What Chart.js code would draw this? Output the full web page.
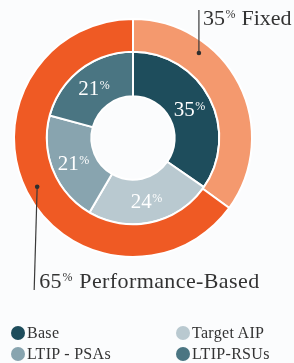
<!DOCTYPE html>
<html><head><meta charset="utf-8">
<script src="https://cdn.jsdelivr.net/npm/chart.js@4/dist/chart.umd.min.js"></script>
<style>
html,body{margin:0;padding:0;background:#fbfcfd;width:294px;height:363px;overflow:hidden;}
#wrap{position:relative;width:294px;height:363px;}
#c{position:absolute;left:0;top:0;}
#legend{position:absolute;left:11px;top:325px;width:283px;display:grid;grid-template-columns:165px 118px;row-gap:5px;font-family:"Liberation Serif",serif;font-size:16px;letter-spacing:0.3px;color:#333;}
.item{display:flex;align-items:center;height:16px;line-height:16px;white-space:nowrap;}
.dot{width:14px;height:14px;border-radius:50%;margin-right:2px;flex:none;}
</style></head>
<body><div id="wrap"><canvas id="c" width="294" height="363"></canvas><div id="legend"></div></div>
<script>
const innerCategories = ['Base', 'Target AIP', 'LTIP - PSAs', 'LTIP-RSUs'];
const innerValues = [35, 24, 21, 21];
const innerColors = ['#1e4d5c', '#b9c9d0', '#88a4af', '#4a7582'];
const outerCategories = ['Fixed', 'Performance-Based'];
const outerValues = [35, 65];
const outerColors = ['#f4996e', '#ef5a24'];

const SERIF = '"Liberation Serif", "Times New Roman", serif';

function drawPct(ctx, num, rest, x, baseline, size, color, align, spacing) {
  ctx.save();
  ctx.fillStyle = color;
  ctx.textBaseline = 'alphabetic';
  ctx.textAlign = 'left';
  if (spacing) ctx.letterSpacing = spacing + 'px';
  const big = size + 'px ' + SERIF;
  const small = Math.round(size * 0.55) + 'px ' + SERIF;
  ctx.font = big; const wN = ctx.measureText(String(num)).width;
  ctx.font = small; const wP = ctx.measureText('%').width;
  ctx.font = big; const wR = rest ? ctx.measureText(rest).width : 0;
  const total = wN + wP + 1 + wR;
  let sx = align === 'center' ? x - total / 2 : x;
  ctx.font = big; ctx.fillText(String(num), sx, baseline);
  ctx.font = small; ctx.fillText('%', sx + wN + 0.5, baseline - size * 0.3);
  if (rest) { ctx.font = big; ctx.fillText(rest, sx + wN + wP + 1, baseline); }
  ctx.restore();
}

const labelPlugin = {
  id: 'labels',
  afterDatasetsDraw(chart) {
    const ctx = chart.ctx;
    const innerMeta = chart.getDatasetMeta(1);
    innerMeta.data.forEach((arc, i) => {
      const p = arc.tooltipPosition();
      drawPct(ctx, innerValues[i], '', p.x, p.y + 8, 21, '#ffffff', 'center', 0);
    });
    const outerMeta = chart.getDatasetMeta(0);
    const pt = (arc, frac) => {
      const a = arc.startAngle + (arc.endAngle - arc.startAngle) * frac;
      const r = arc.innerRadius + (arc.outerRadius - arc.innerRadius) * 0.65;
      return { x: arc.x + Math.cos(a) * r, y: arc.y + Math.sin(a) * r };
    };
    ctx.save();
    ctx.strokeStyle = '#3a3a3a'; ctx.fillStyle = '#2e2e2e'; ctx.lineWidth = 1.2;
    const f = pt(outerMeta.data[0], 0.3);
    ctx.beginPath(); ctx.moveTo(f.x, f.y); ctx.lineTo(f.x, 10); ctx.stroke();
    ctx.beginPath(); ctx.arc(f.x, f.y, 2.3, 0, Math.PI * 2); ctx.fill();
    const g = pt(outerMeta.data[1], 0.5);
    ctx.beginPath(); ctx.moveTo(g.x, g.y); ctx.lineTo(g.x - 3, 290); ctx.stroke();
    ctx.beginPath(); ctx.arc(g.x, g.y, 2.3, 0, Math.PI * 2); ctx.fill();
    ctx.restore();
    drawPct(ctx, outerValues[0], ' ' + outerCategories[0], f.x + 4, 25, 22, '#333333', 'left', 0);
    drawPct(ctx, outerValues[1], ' ' + outerCategories[1], g.x + 2, 288, 22, '#333333', 'left', 0.4);
  }
};

new Chart(document.getElementById('c'), {
  type: 'doughnut',
  data: {
    datasets: [
      { label: 'Mix', data: outerValues, backgroundColor: outerColors, borderColor: '#ffffff', borderWidth: 2, weight: 33 },
      { label: 'Components', data: innerValues, backgroundColor: innerColors, borderColor: '#ffffff', borderWidth: 2, weight: 45 }
    ]
  },
  options: {
    responsive: false,
    animation: false,
    cutout: '35%',
    layout: { padding: { left: 13, top: 18, right: 41, bottom: 105 } },
    plugins: { legend: { display: false }, tooltip: { enabled: false } }
  },
  plugins: [labelPlugin]
});

const legend = document.getElementById('legend');
innerCategories.forEach((name, i) => {
  const d = document.createElement('div'); d.className = 'item';
  const s = document.createElement('span'); s.className = 'dot'; s.style.background = innerColors[i];
  d.appendChild(s); d.appendChild(document.createTextNode(name));
  legend.appendChild(d);
});
</script>
</body></html>
